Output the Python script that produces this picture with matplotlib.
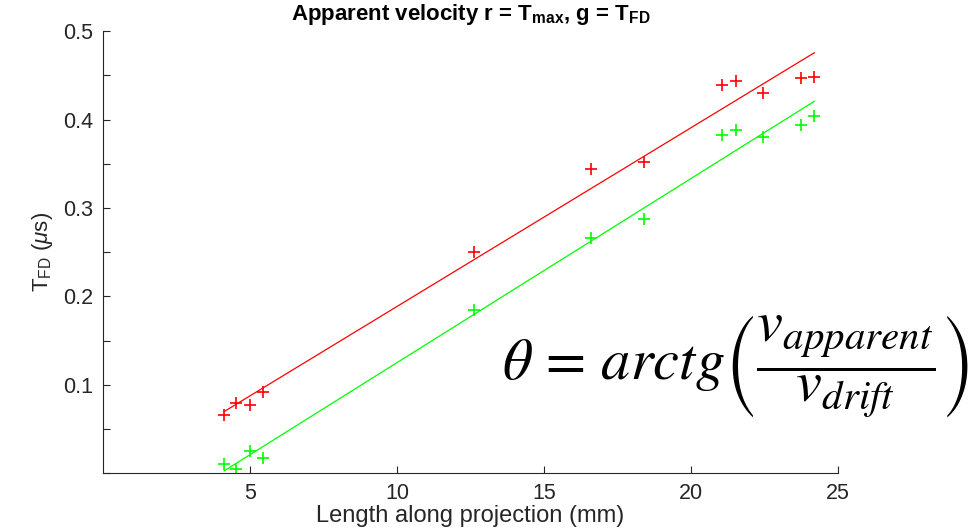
import numpy as np
import matplotlib
matplotlib.use('Agg')
from matplotlib import pyplot as plt
from matplotlib.ticker import MultipleLocator

plt.rcParams['font.family'] = ['Liberation Sans', 'DejaVu Sans']
# sans maths for title/labels (MATLAB tex style), serif only for the big equation
plt.rcParams['mathtext.fontset'] = 'custom'
plt.rcParams['mathtext.rm'] = 'Liberation Sans'
plt.rcParams['mathtext.it'] = 'Liberation Sans:italic'
plt.rcParams['mathtext.bf'] = 'Liberation Sans:bold'

# lengths along projection (mm), shared by both series
length = [4.12, 4.52, 5.0, 5.44, 12.62, 16.6, 18.4, 21.05, 21.53, 22.45, 23.74, 24.2]
# red: T_max, green: T_FD  (us)
t_max = [0.0655, 0.079, 0.077, 0.0915, 0.2497, 0.3435, 0.3525, 0.4395, 0.4435, 0.4305, 0.4475, 0.4485]
t_fd = [0.0102, 0.0045, 0.0249, 0.017, 0.184, 0.2655, 0.287, 0.383, 0.3876, 0.3797, 0.394, 0.4045]
x_ticks = [5, 10, 15, 20, 25]
y_ticks = [0.1, 0.2, 0.3, 0.4, 0.5]

fig = plt.figure(figsize=(9.72, 5.28), dpi=100)
ax = fig.add_axes([0.106, 0.104, 0.756, 0.837])

x = np.array(length)
for y, c in ((t_max, '#ff0000'), (t_fd, '#00ff00')):
    ax.plot(x, y, '+', color=c, ms=9, mew=1.2)
    p = np.polyfit(x, y, 1)  # least squares line, as in the original
    xf = np.array([x.min(), x.max()])
    ax.plot(xf, np.polyval(p, xf), '-', color=c, lw=0.9)

ax.set_xlim(0, 25)
ax.set_ylim(0, 0.5)
ax.set_xticks(x_ticks)
ax.set_yticks(y_ticks)
ax.yaxis.set_minor_locator(MultipleLocator(0.05))
ax.tick_params(which='both', direction='in', length=5, width=0.8,
               colors='#262626', labelsize=15.5, pad=7)
for s in ('top', 'right'):
    ax.spines[s].set_visible(False)
for s in ('left', 'bottom'):
    ax.spines[s].set_color('#262626')
    ax.spines[s].set_linewidth(0.8)

ax.set_title(r'Apparent velocity r = T$_{\mathbf{max}}$, g = T$_{\mathbf{FD}}$',
             fontsize=16, fontweight='bold', pad=8)
ax.set_xlabel('Length along projection (mm)', fontsize=17, color='#262626', labelpad=1)
ax.set_ylabel(r'T$_{\mathrm{FD}}$ ($\mu$s)', fontsize=16, color='#262626', labelpad=6)

fig.text(0.997, 0.305, r'$\theta\,=\,arctg\left(\dfrac{v_{apparent}}{v_{drift}}\right)$',
         fontsize=42, ha='right', va='center', color='black', math_fontfamily='stix')

fig.savefig('out.png', dpi=100)
